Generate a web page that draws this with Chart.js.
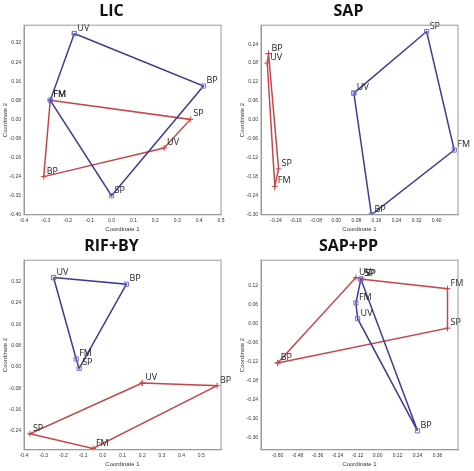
<!DOCTYPE html>
<html><head><meta charset="utf-8">
<script src="https://cdn.jsdelivr.net/npm/chart.js@4"></script>
<style>
body{margin:0;background:#fff;}
#g{display:grid;grid-template-columns:237px 237px;grid-template-rows:235px 236px;}
.c{position:relative;width:237px;height:235px;}
</style></head><body>
<div id="g"><div class="c"><canvas id="c0" width="237" height="235"></canvas></div><div class="c"><canvas id="c1" width="237" height="235"></canvas></div><div class="c"><canvas id="c2" width="237" height="235"></canvas></div><div class="c"><canvas id="c3" width="237" height="235"></canvas></div></div>
<script>
const titles = ["LIC","SAP","RIF+BY","SAP+PP"];
const licBlueLabels=["UV","BP","SP","FM"]; const licBlueX=[-0.17,0.42,0.0,-0.28]; const licBlueY=[0.36,0.14,-0.32,0.08];
const licRedLabels=["FM","SP","UV","BP"]; const licRedX=[-0.28,0.36,0.24,-0.31]; const licRedY=[0.08,0.0,-0.12,-0.24];
const sapBlueLabels=["UV","SP","FM","BP"]; const sapBlueX=[0.07,0.36,0.47,0.14]; const sapBlueY=[0.085,0.28,-0.095,-0.30];
const sapRedLabels=["BP","SP","FM","UV"]; const sapRedX=[-0.27,-0.23,-0.245,-0.275]; const sapRedY=[0.21,-0.155,-0.21,0.18];
const rifBlueLabels=["UV","BP","SP","FM"]; const rifBlueX=[-0.25,0.12,-0.12,-0.135]; const rifBlueY=[0.335,0.31,-0.005,0.03];
const rifRedLabels=["UV","BP","FM","SP"]; const rifRedX=[0.2,0.58,-0.05,-0.37]; const rifRedY=[-0.06,-0.07,-0.305,-0.25];
const sppBlueLabels=["SP","FM","UV","BP"]; const sppBlueX=[-0.10,-0.13,-0.12,0.24]; const sppBlueY=[0.14,0.065,0.015,-0.34];
const sppRedLabels=["BP","UV","SP","FM","SP"]; const sppRedX=[-0.60,-0.13,-0.09,0.42,0.42]; const sppRedY=[-0.125,0.145,0.14,0.11,-0.015];
const licXTicks=[-0.4,-0.3,-0.2,-0.1,0,0.1,0.2,0.3,0.4,0.5]; const licYTicks=[-0.40,-0.32,-0.24,-0.16,-0.08,0,0.08,0.16,0.24,0.32];
const sapXTicks=[-0.24,-0.16,-0.08,0,0.08,0.16,0.24,0.32,0.40]; const sapYTicks=[-0.30,-0.24,-0.18,-0.12,-0.06,0,0.06,0.12,0.18,0.24];
const rifXTicks=[-0.4,-0.3,-0.2,-0.1,0,0.1,0.2,0.3,0.4,0.5]; const rifYTicks=[-0.24,-0.16,-0.08,0,0.08,0.16,0.24,0.32];
const sppXTicks=[-0.60,-0.48,-0.36,-0.24,-0.12,0,0.12,0.24,0.36]; const sppYTicks=[-0.36,-0.30,-0.24,-0.18,-0.12,-0.06,0,0.06,0.12];
const ranges=[[-0.4,0.5,-0.4,0.395],[-0.30,0.485,-0.30,0.30],[-0.4,0.6,-0.31,0.40],[-0.70,0.483,-0.40,0.20]];
const dec=[[1,2],[2,2],[1,2],[2,2]];
const BLUE="#3c3c94", RED="#c4484a";
function pts(xs,ys,ls){const a=xs.map((x,i)=>({x,y:ys[i],l:ls[i]}));a.push({...a[0],l:null});return a;}
const panels=[
 [pts(licBlueX,licBlueY,licBlueLabels),pts(licRedX,licRedY,licRedLabels),licXTicks,licYTicks],
 [pts(sapBlueX,sapBlueY,sapBlueLabels),pts(sapRedX,sapRedY,sapRedLabels),sapXTicks,sapYTicks],
 [pts(rifBlueX,rifBlueY,rifBlueLabels),pts(rifRedX,rifRedY,rifRedLabels),rifXTicks,rifYTicks],
 [pts(sppBlueX,sppBlueY,sppBlueLabels),pts(sppRedX,sppRedY,sppRedLabels),sppXTicks,sppYTicks]];
const labelPlugin={id:'lbl',afterDatasetsDraw(ch){const c=ch.ctx;c.save();c.font='9px "Open Sans", sans-serif';c.fillStyle='#222';c.textBaseline='bottom';
 ch.data.datasets.forEach((ds,di)=>{const m=ch.getDatasetMeta(di);ds.data.forEach((p,i)=>{if(!p.l)return;const e=m.data[i];c.fillText(p.l,e.x+3,e.y-1);});});c.restore();}};
const boxPlugin={id:'box',afterDraw(ch){const a=ch.chartArea,c=ch.ctx;c.save();c.strokeStyle='#999';c.lineWidth=1;c.strokeRect(a.left,a.top,a.right-a.left,a.bottom-a.top);c.restore();}};
panels.forEach((p,k)=>{
 const r=ranges[k];
 new Chart(document.getElementById('c'+k),{type:'scatter',
  data:{datasets:[
   {data:p[0],showLine:true,borderColor:BLUE,borderWidth:1.5,pointStyle:'rect',pointRadius:3,pointBorderColor:'#7777cc',pointBackgroundColor:'rgba(0,0,0,0)',pointBorderWidth:1},
   {data:p[1],showLine:true,borderColor:RED,borderWidth:1.5,pointStyle:'cross',pointRadius:3,pointBorderColor:RED,pointBorderWidth:1}]},
  options:{responsive:false,animation:false,devicePixelRatio:1,
   layout:{padding:{left:2,right:16,top:0,bottom:2}},
   plugins:{legend:{display:false},tooltip:{enabled:false},
    title:{display:true,text:titles[k],font:{family:'"Open Sans", sans-serif',size:16,weight:'bold'},color:'#111',padding:{top:2,bottom:4}}},
   scales:{
    x:{type:'linear',min:r[0],max:r[1],grid:{display:false,tickLength:2},border:{color:'#999'},
     afterBuildTicks:a=>{a.ticks=p[2].map(v=>({value:v}));},
     ticks:{font:{size:5},color:'#333',maxRotation:0,autoSkip:false,padding:1,callback:v=>Number(v).toFixed(dec[k][0])},
     title:{display:true,text:'Coordinate 1',font:{size:6},color:'#333',padding:{top:1,bottom:0}}},
    y:{type:'linear',min:r[2],max:r[3],grid:{display:false,tickLength:2},border:{color:'#999'},
     afterBuildTicks:a=>{a.ticks=p[3].map(v=>({value:v}));},
     afterFit:a=>{a.width=22;},
     ticks:{font:{size:5},color:'#333',autoSkip:false,padding:1,callback:v=>Number(v).toFixed(dec[k][1])},
     title:{display:true,text:'Coordinate 2',font:{size:6},color:'#333',padding:0}}}},
  plugins:[labelPlugin,boxPlugin]
 });
});
</script></body></html>
